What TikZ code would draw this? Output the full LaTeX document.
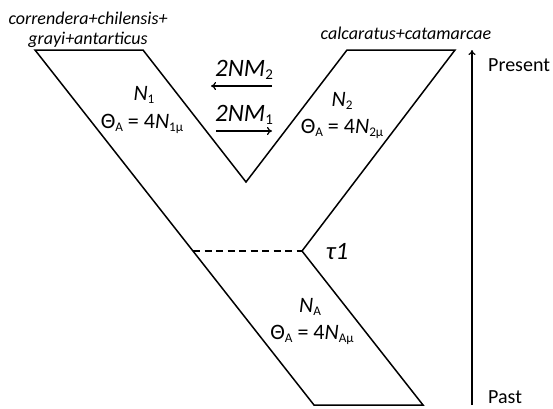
\documentclass[tikz,border=0pt]{standalone}
\usepackage{fontspec}
\setmainfont{Carlito}
\usetikzlibrary{arrows.meta}
\newcommand\lsub[1]{\raisebox{-0.3ex}{\scalebox{0.6}{\upshape #1}}}
\begin{document}
\begin{tikzpicture}[x=1pt,y=-1pt,
  outline/.style={line width=1.5pt, line join=miter},
  lbl/.style={inner sep=0pt, font=\fontsize{20}{24}\selectfont},
  pop/.style={inner sep=0pt, font=\fontsize{22}{26}\selectfont},
  taxon/.style={inner sep=0pt, font=\fontsize{18}{20}\selectfont\itshape, align=center},
  mig/.style={inner sep=0pt, font=\fontsize{25}{30}\selectfont\itshape},
  migarrow/.style={line width=1.2pt, -{To[length=5pt,width=8pt]}},
  axis/.style={line width=1.2pt, -{To[length=5pt,width=7pt]}},
  sep/.style={line width=1.3pt, dash pattern=on 7pt off 4.5pt}
]
\useasboundingbox (0,0) rectangle (553,408);
% outline of the Y-shaped population tree
\coordinate (tl1) at (35,50);
\coordinate (tr1) at (143,50);
\coordinate (vb) at (246,182);
\coordinate (tl2) at (347,50);
\coordinate (tr2) at (455,50);
\coordinate (jn) at (302,251);
\coordinate (br) at (423,405);
\coordinate (bl) at (314,405);
\coordinate (dl) at (193,251);
\draw[outline] (tl1) -- (tr1) -- (vb) -- (tl2) -- (tr2) -- (jn) -- (br) -- (bl) -- cycle;
\draw[sep] (dl) -- (jn);
% taxa
\node[taxon] (t1) at (88,30) {correndera+chilensis+\\grayi+antarticus};
\node[taxon] (t2) at (406,33) {calcaratus+catamarcae};
% population labels
\node[pop] (n1) at (144,95) {\textit{N}\lsub{1}};
\node[pop] (th1) at (142,124) {Θ\lsub{A} = 4\textit{N}\lsub{1μ}};
\node[pop] (n2) at (342,101) {\textit{N}\lsub{2}};
\node[pop] (th2) at (342,129) {Θ\lsub{A} = 4\textit{N}\lsub{2μ}};
\node[pop] (na) at (310,307) {\textit{N}\lsub{A}};
\node[pop] (tha) at (312,335) {Θ\lsub{A} = 4\textit{N}\lsub{Aμ}};
% migration
\node[mig] (m2) at (244,70) {2NM\lsub{2}};
\node[mig] (m1) at (244,115) {2NM\lsub{1}};
\coordinate (m2a) at (272,86);
\coordinate (m2b) at (211,86);
\coordinate (m1a) at (216,131);
\coordinate (m1b) at (272,131);
\draw[migarrow] (m2a) -- (m2b);
\draw[migarrow] (m1a) -- (m1b);
% split time
\node[mig] (tau) at (337,251) {τ1};
% time axis
\coordinate (axb) at (472,405);
\coordinate (axt) at (472,50);
\draw[axis] (axb) -- (axt);
\node[lbl, anchor=west] (pres) at (488,65) {Present};
\node[lbl, anchor=base west] (past) at (488,403) {Past};
\end{tikzpicture}
\end{document}
